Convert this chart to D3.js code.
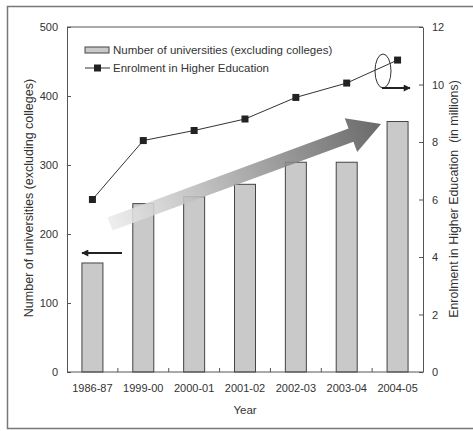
<!DOCTYPE html>
<html>
<head>
<meta charset="utf-8">
<script src="https://cdn.jsdelivr.net/npm/d3@7"></script>
<style>
  body { margin: 0; background: #fff; }
  svg text { font-family: "Liberation Sans", Arial, sans-serif; fill: #333; }
</style>
</head>
<body>
<div id="chart"></div>
<script>
// data
const years = ["1986-87", "1999-00", "2000-01", "2001-02", "2002-03", "2003-04", "2004-05"];
const universities = [158, 244, 254, 272, 304, 304, 363];
const enrolment = [6.0, 8.05, 8.4, 8.8, 9.55, 10.05, 10.85];
const leftTicks = [0, 100, 200, 300, 400, 500];
const rightTicks = [0, 2, 4, 6, 8, 10, 12];

const W = 473, H = 431;
const m = { left: 67, top: 27, right: 423, bottom: 372 };

const svg = d3.select("#chart").append("svg")
  .attr("width", W).attr("height", H);

// outer frame
svg.append("rect")
  .attr("x", 7.5).attr("y", 6.5)
  .attr("width", 480).attr("height", 422)
  .attr("fill", "none").attr("stroke", "#777").attr("stroke-width", 1.5);

const x = d3.scaleBand().domain(years).range([m.left, m.right]);
const yL = d3.scaleLinear().domain([0, 500]).range([m.bottom, m.top]);
const yR = d3.scaleLinear().domain([0, 12]).range([m.bottom, m.top]);

const defs = svg.append("defs");
const grad = defs.append("linearGradient").attr("id", "arrowGrad")
  .attr("x1", "0%").attr("x2", "100%").attr("y1", "0%").attr("y2", "0%");
grad.append("stop").attr("offset", "0%").attr("stop-color", "#ececec");
grad.append("stop").attr("offset", "100%").attr("stop-color", "#555");

defs.append("marker").attr("id", "headBlack")
  .attr("viewBox", "0 0 10 10").attr("refX", 9).attr("refY", 5)
  .attr("markerWidth", 9).attr("markerHeight", 7)
  .attr("markerUnits", "userSpaceOnUse")
  .attr("orient", "auto")
  .append("path").attr("d", "M0,0 L10,5 L0,10 Z").attr("fill", "#222");

// bars
const barW = 21;
svg.selectAll(".bar")
  .data(years)
  .enter().append("rect")
  .attr("class", "bar")
  .attr("x", d => x(d) + x.bandwidth() / 2 - barW / 2)
  .attr("y", (d, i) => yL(universities[i]))
  .attr("width", barW)
  .attr("height", (d, i) => yL(0) - yL(universities[i]))
  .attr("fill", "#c9c9c9")
  .attr("stroke", "#444")
  .attr("stroke-width", 1);

// big trend arrow
const tail = [110, 224], tip = [381, 124];
const ang = Math.atan2(tip[1] - tail[1], tip[0] - tail[0]) * 180 / Math.PI;
const len = Math.hypot(tip[0] - tail[0], tip[1] - tail[1]);
const sw = 7, hw = 18, hl = 32;
svg.append("g")
  .attr("transform", `translate(${tail[0]},${tail[1]}) rotate(${ang})`)
  .append("path")
  .attr("d", `M0,${-sw} L${len - hl},${-sw} L${len - hl},${-hw} L${len},0 L${len - hl},${hw} L${len - hl},${sw} L0,${sw} Z`)
  .attr("fill", "url(#arrowGrad)")
  .attr("opacity", 0.88);

// enrolment line
const line = d3.line()
  .x((d, i) => x(years[i]) + x.bandwidth() / 2)
  .y(d => yR(d));
svg.append("path")
  .datum(enrolment)
  .attr("d", line)
  .attr("fill", "none")
  .attr("stroke", "#333")
  .attr("stroke-width", 1);

svg.selectAll(".pt")
  .data(enrolment)
  .enter().append("rect")
  .attr("class", "pt")
  .attr("x", (d, i) => x(years[i]) + x.bandwidth() / 2 - 3.5)
  .attr("y", d => yR(d) - 3.5)
  .attr("width", 7).attr("height", 7)
  .attr("fill", "#222");

// axes
const axisL = d3.axisLeft(yL).tickValues(leftTicks).tickSizeInner(-4).tickSizeOuter(0).tickPadding(9);
const axisR = d3.axisRight(yR).tickValues(rightTicks).tickSizeInner(-4).tickSizeOuter(0).tickPadding(9);
const axisB = d3.axisBottom(x).tickSize(0).tickPadding(12);

function styleAxis(g) {
  g.selectAll("path, line").attr("stroke", "#555");
  g.selectAll("text").attr("font-size", 11).attr("fill", "#333")
    .attr("font-family", "'Liberation Sans', Arial, sans-serif");
}

svg.append("g").attr("transform", `translate(${m.left},0)`).call(axisL).call(styleAxis);
svg.append("g").attr("transform", `translate(${m.right},0)`).call(axisR).call(styleAxis);
const gB = svg.append("g").attr("transform", `translate(0,${m.bottom})`).call(axisB).call(styleAxis);
gB.select(".domain").remove();
svg.append("line")
  .attr("x1", m.left).attr("x2", m.right)
  .attr("y1", m.bottom).attr("y2", m.bottom)
  .attr("stroke", "#555");
// category separators on the x axis
svg.selectAll(".sep")
  .data(years.slice(1))
  .enter().append("line")
  .attr("x1", d => x(d)).attr("x2", d => x(d))
  .attr("y1", m.bottom).attr("y2", m.bottom - 4)
  .attr("stroke", "#555");
// top frame of plot
svg.append("line")
  .attr("x1", m.left).attr("x2", m.right)
  .attr("y1", m.top).attr("y2", m.top)
  .attr("stroke", "#555");

// axis titles
svg.append("text")
  .attr("transform", `translate(33,198) rotate(-90)`)
  .attr("text-anchor", "middle").attr("font-size", 12.5)
  .text("Number of universities (excluding colleges)");
svg.append("text")
  .attr("transform", `translate(458,199) rotate(-90)`)
  .attr("text-anchor", "middle").attr("font-size", 12.4)
  .attr("xml:space", "preserve")
  .text("Enrolment in Higher Education  (in millions)");
svg.append("text")
  .attr("x", (m.left + m.right) / 2).attr("y", 414)
  .attr("text-anchor", "middle").attr("font-size", 11.5)
  .text("Year");

// legend
svg.append("rect")
  .attr("x", 85).attr("y", 47).attr("width", 24).attr("height", 6)
  .attr("fill", "#c9c9c9").attr("stroke", "#444");
svg.append("text").attr("x", 113).attr("y", 54).attr("font-size", 11.5)
  .text("Number of universities (excluding colleges)");
svg.append("line")
  .attr("x1", 85).attr("x2", 110).attr("y1", 68).attr("y2", 68)
  .attr("stroke", "#333");
svg.append("rect")
  .attr("x", 94).attr("y", 64.5).attr("width", 7).attr("height", 7).attr("fill", "#222");
svg.append("text").attr("x", 113).attr("y", 72).attr("font-size", 11.5)
  .text("Enrolment in Higher Education");

// annotations: which axis each series uses
svg.append("line")
  .attr("x1", 122).attr("x2", 82).attr("y1", 253).attr("y2", 253)
  .attr("stroke", "#222").attr("stroke-width", 2)
  .attr("marker-end", "url(#headBlack)");
svg.append("ellipse")
  .attr("cx", 383).attr("cy", 71).attr("rx", 8).attr("ry", 17)
  .attr("fill", "none").attr("stroke", "#333").attr("stroke-width", 1);
svg.append("line")
  .attr("x1", 382).attr("x2", 410).attr("y1", 88).attr("y2", 88)
  .attr("stroke", "#222").attr("stroke-width", 2)
  .attr("marker-end", "url(#headBlack)");
</script>
</body>
</html>
